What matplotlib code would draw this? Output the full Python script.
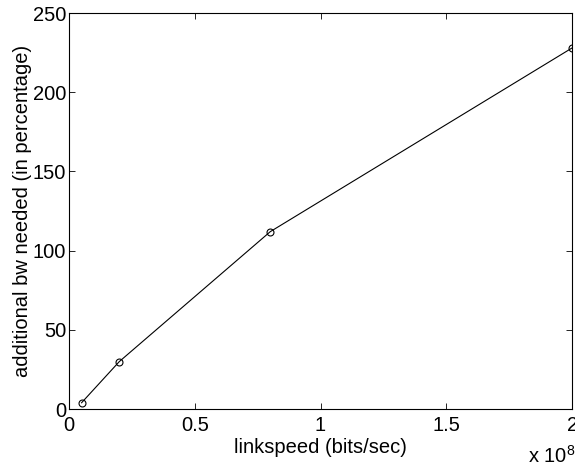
import matplotlib as mpl
mpl.use('Agg')
import matplotlib.pyplot as plt

mpl.rcParams['font.family'] = ['Liberation Sans', 'DejaVu Sans']
mpl.rcParams['mathtext.fontset'] = 'custom'
mpl.rcParams['mathtext.rm'] = 'Liberation Sans'

# linkspeed in units of 1e8 bits/sec
linkspeed = [0.05, 0.2, 0.8, 2.0]
extra_bw = [4.0, 30.0, 112.0, 228.0]

fig = plt.figure(figsize=(5.75, 4.67), dpi=100)
ax = fig.add_axes([0.12, 0.124, 0.875, 0.848])

ax.plot(linkspeed, extra_bw, color='black', linewidth=0.8, marker='o',
        markersize=5, markerfacecolor='none', markeredgewidth=0.8)

ax.set_xlim(0, 2)
ax.set_ylim(0, 250)
ax.set_xticks([0, 0.5, 1, 1.5, 2])
ax.set_xticklabels(['0', '0.5', '1', '1.5', '2'])
ax.set_yticks([0, 50, 100, 150, 200, 250])
ax.tick_params(direction='in', top=True, right=True, labelsize=14.5, length=4, width=0.6)
ax.tick_params(axis='x', pad=5)
ax.tick_params(axis='y', pad=2)
for s in ax.spines.values():
    s.set_linewidth(0.8)

ax.set_xlabel('linkspeed (bits/sec)', fontsize=14.5, va='top')
ax.xaxis.set_label_coords(0.5, -0.072)
ax.set_ylabel('additional bw needed (in percentage)', fontsize=14.5, va='center')
ax.yaxis.set_label_coords(-0.093, 0.5)
fig.text(528 / 575, 1 - 463 / 467, r'x 10$^{8}$', fontsize=14.5, ha='left', va='baseline')

fig.savefig('out.png', dpi=100)
